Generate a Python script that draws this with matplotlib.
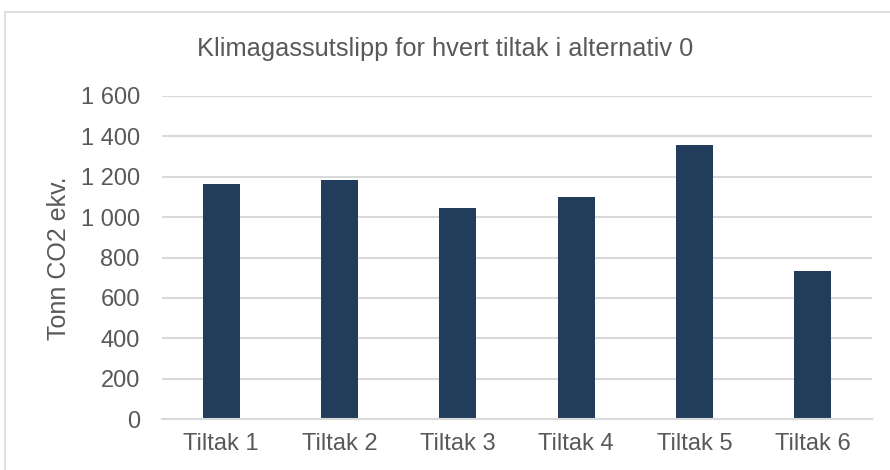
import matplotlib
matplotlib.use("Agg")
import matplotlib.pyplot as plt
from matplotlib.patches import Rectangle
from matplotlib.ticker import FuncFormatter

categories = ["Tiltak 1", "Tiltak 2", "Tiltak 3", "Tiltak 4", "Tiltak 5", "Tiltak 6"]
values = [1164, 1182, 1047, 1100, 1359, 731]
yticks = [0, 200, 400, 600, 800, 1000, 1200, 1400, 1600]
title = "Klimagassutslipp for hvert tiltak i alternativ 0"
ylabel = "Tonn CO2 ekv."

plt.rcParams['font.family'] = ['Liberation Sans', 'DejaVu Sans']
text_color = "#595959"
grid_color = "#d9d9d9"
bar_color = "#213d5b"

W, H = 890, 470
fig = plt.figure(figsize=(W / 100, H / 100), dpi=100)
fig.patch.set_facecolor("white")

# chart border (extends beyond right/bottom edges)
fig.add_artist(Rectangle((5 / W, -0.1), 1.2, (H - 12) / H + 0.1,
                         transform=fig.transFigure, fill=False,
                         edgecolor=grid_color, linewidth=1.2))

left, right = 162, 872
top, bottom = 96, 419
ax = fig.add_axes([left / W, 1 - bottom / H, (right - left) / W, (bottom - top) / H])

x = range(len(categories))
ax.bar(x, values, width=0.31, color=bar_color, zorder=3)
ax.set_xlim(-0.5, len(categories) - 0.5)
ax.set_ylim(0, 1600)
ax.set_yticks(yticks)
ax.yaxis.set_major_formatter(FuncFormatter(lambda v, p: f"{int(v):,}".replace(",", " ")))
ax.set_xticks(list(x))
ax.set_xticklabels(categories)

ax.grid(axis="y", color=grid_color, linewidth=1.5, zorder=0)
for s in ["top", "right", "left"]:
    ax.spines[s].set_visible(False)
ax.spines["bottom"].set_color(grid_color)
ax.spines["bottom"].set_linewidth(1.5)
ax.spines["bottom"].set_zorder(4)
ax.tick_params(axis="both", length=0, labelsize=17, colors=text_color)
ax.tick_params(axis="y", pad=16)
ax.tick_params(axis="x", pad=10)

ax.set_ylabel(ylabel, fontsize=18, color=text_color)
ax.yaxis.set_label_coords(71 / W, 1 - 258 / H, transform=fig.transFigure)
fig.text(445 / W, 1 - 49 / H, title, ha="center", va="center",
         fontsize=18.3, color=text_color)

fig.savefig("out.png", dpi=100, facecolor="white")
